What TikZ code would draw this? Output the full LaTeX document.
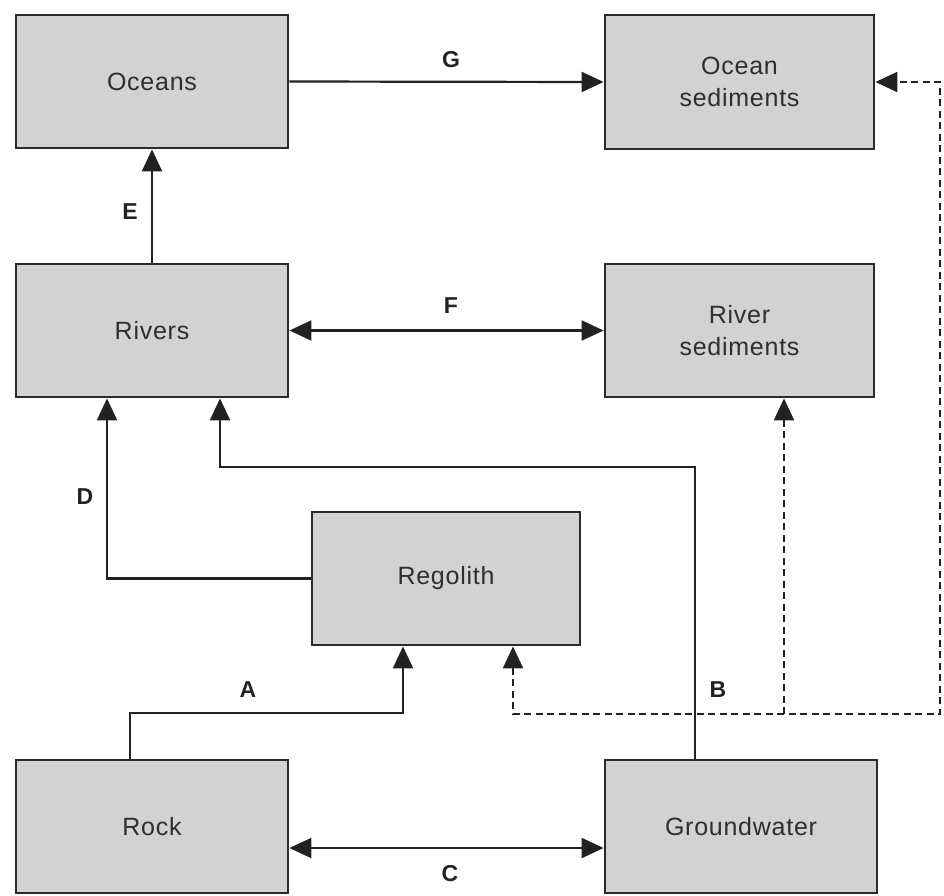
\documentclass[tikz,border=0pt]{standalone}
\usepackage{fontspec}
\setmainfont{Liberation Sans}
\usetikzlibrary{arrows.meta}
\definecolor{boxfill}{HTML}{D2D2D2}
\definecolor{boxline}{HTML}{2A2A2A}
\definecolor{ink}{HTML}{222222}
\definecolor{txt}{HTML}{2E2E2E}
\tikzset{
  store/.style={draw=boxline, line width=2.8pt, fill=boxfill, minimum width=272pt,
    minimum height=133pt, inner sep=0pt, align=center, text=txt,
    font=\fontsize{25}{32}\selectfont\addfontfeatures{LetterSpace=3}},
  flow/.style={draw=ink, line width=2.2pt, -{Triangle[length=22pt,width=20pt]}},
  twoway/.style={draw=ink, line width=2.2pt, {Triangle[length=22pt,width=20pt]}-{Triangle[length=22pt,width=20pt]}},
  dashflow/.style={draw=ink, line width=2.2pt, dash pattern=on 7pt off 4.5pt},
  tag/.style={text=ink, font=\fontsize{23}{27}\selectfont\bfseries}
}
\begin{document}
\begin{tikzpicture}[x=1pt,y=-1pt]
\useasboundingbox (0,0) rectangle (944,895);

% reservoirs
\node[store] (oceans) at (152,81.5) {Oceans};
\node[store, minimum width=269pt, minimum height=134pt] (osed) at (739.5,82) {Ocean\\sediments};
\node[store] (rivers) at (152,330.5) {Rivers};
\node[store, minimum width=269pt] (rsed) at (739.5,330.5) {River\\sediments};
\node[store, minimum width=268pt] (regolith) at (446,578.5) {Regolith};
\node[store] (rock) at (152,826.5) {Rock};
\node[store] (gw) at (741,826.5) {Groundwater};

% turning points of the routed paths
\coordinate (gwturn) at (695,467);
\coordinate (bcorner) at (940,714);
\coordinate (bbranch) at (784,714);

% solid fluxes
\draw[flow] (oceans.east) -- (osed.west);
\draw[flow] (rivers.north) -- (oceans.south);
\draw[twoway] (rivers.east) -- (rsed.west);
\draw[flow] (regolith.west) -| ([xshift=-45pt]rivers.south);
\draw[flow] ([xshift=-46pt]gw.north) -- (gwturn) -| ([xshift=68pt]rivers.south);
\draw[flow] ([xshift=-22pt]rock.north) -- ++(0,-46) -| ([xshift=-43pt]regolith.south);
\draw[twoway] ([yshift=-21.5pt]rock.east) -- ([yshift=-21.5pt]gw.west);

% dashed fluxes
\draw[dashflow, {Triangle[length=22pt,width=20pt]}-{Triangle[length=22pt,width=20pt]}]
  ([xshift=67pt]regolith.south) |- (bcorner) |- (osed.east);
\draw[dashflow, -{Triangle[length=22pt,width=20pt]}] (bbranch) -- ([xshift=44.5pt]rsed.south);

% flux labels
\node[tag] (lg) at (451,60) {G};
\node[tag] (le) at (130,212) {E};
\node[tag] (lf) at (451,306) {F};
\node[tag] (ld) at (85,497) {D};
\node[tag] (la) at (248,690) {A};
\node[tag] (lb) at (718,690) {B};
\node[tag] (lc) at (450,874) {C};
\end{tikzpicture}
\end{document}
